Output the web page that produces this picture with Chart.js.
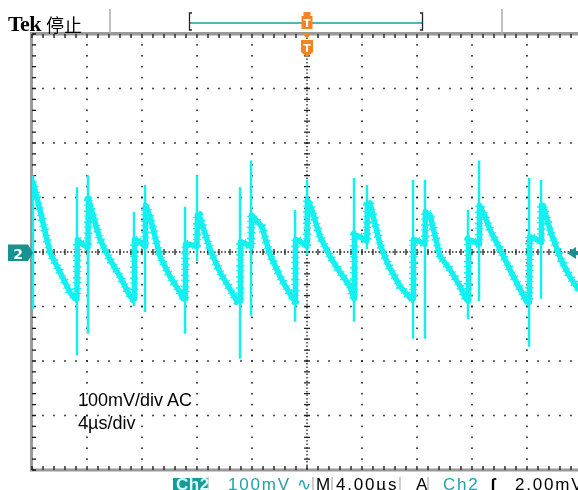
<!DOCTYPE html>
<html>
<head>
<meta charset="utf-8">
<script src="https://cdn.jsdelivr.net/npm/chart.js@4.4.1/dist/chart.umd.min.js"></script>
<style>
    body { margin: 0; background: #fff; }
    #wrap { position: relative; width: 578px; height: 490px; overflow: hidden; background: #fff; }
    #scope { position: absolute; left: 0; top: 0; }
    .lbl { position: absolute; white-space: nowrap; line-height: 1; }
    #tek { left: 8px; top: 11px; font: bold 22px "Liberation Serif", serif; letter-spacing: -0.6px; }
    #stop { left: 46px; top: 11px; font: 18px "Noto Sans CJK SC", sans-serif; }
    .trig { font: bold 11px "DejaVu Sans", sans-serif; color: #fff; width: 12px; text-align: center; }
    #gnd { left: 8px; top: 246px; width: 20px; text-align: center; font: bold 14px "DejaVu Sans", sans-serif; color: #fff; }
    .note { left: 78px; font: 18px "Liberation Sans", Arial, sans-serif; line-height: 18px; }
    .foot { top: 476px; font: 17px "Liberation Sans", Arial, sans-serif; line-height: 17px; letter-spacing: 1.8px; }
    .teal { color: #1fa3a8; }
</style>
</head>
<body>
<div id="wrap">
    <canvas id="scope" width="578" height="490"></canvas>
    <div class="lbl" id="tek">Tek</div>
    <div class="lbl" id="stop">停止</div>
    <div class="lbl trig" style="left:301px; top:17px;">T</div>
    <div class="lbl trig" style="left:301px; top:42px;">T</div>
    <div class="lbl" id="gnd">2</div>
    <div class="lbl note" style="top:391px;">100mV/div AC</div>
    <div class="lbl note" style="top:414px;">4µs/div</div>
    <div class="lbl foot" style="left:176px; color:#d8ffff; font-weight:bold; letter-spacing:0.5px;">Ch2</div>
    <div class="lbl foot teal" style="left:228px;">100mV ∿</div>
    <div class="lbl foot" style="left:316px;">M</div>
    <div class="lbl foot" style="left:336px;">4.00µs</div>
    <div class="lbl foot" style="left:416px;">A</div>
    <div class="lbl foot teal" style="left:443px;">Ch2</div>
    <div class="lbl foot" style="left:490px; font-weight:bold;">ʃ</div>
    <div class="lbl foot" style="left:515px;">2.00mV</div>
</div>
<script>
// Messwerte: Zeit in µs (4 µs/div), Spannung in mV (100 mV/div)
const traceTime = [
    -19.93, -19.42, -18.69, -17.96, -17.24, -16.87,
    -16.73, -16.70, -16.51, -16.22, -15.93, -15.90, -15.78, -15.05, -14.33, -13.60, -12.87, -12.65,
    -12.58, -12.55, -12.15, -11.78, -11.75, -11.42, -10.69, -9.96, -9.24, -9.02,
    -8.87, -8.84, -8.51, -8.00, -7.97, -7.85, -7.05, -6.33, -5.60, -5.09,
    -4.87, -4.84, -4.51, -4.07, -4.04, -3.27, -2.69, -1.96, -1.45, -1.02,
    -0.87, -0.84, -0.51, 0.00, 0.03, 0.36, 0.95, 1.67, 2.40, 3.13, 3.35,
    3.42, 3.45, 3.85, 4.36, 4.39, 4.58, 5.31, 5.89, 6.76, 7.56,
    7.71, 7.74, 8.15, 8.58, 8.61, 8.95, 9.67, 10.40, 11.13, 11.56,
    11.71, 11.74, 12.07, 12.51, 12.54, 12.95, 13.31, 14.04, 14.76, 15.49, 16.00,
    16.15, 16.18, 16.58, 17.02, 17.05, 17.16, 17.75, 18.47, 19.13, 19.71
];
const traceVolt = [
    128, 77, -1, -37, -74, -86,
    -86, 23, 18, 12, 8, 96, 86, 23, -14, -45, -81, -86,
    -86, 23, 18, 10, 86, 65, -8, -45, -74, -86,
    -86, 14, 14, 10, 68, 68, 5, -37, -68, -90,
    -90, 19, 16, 10, 68, 46, -5, -45, -68, -86,
    -90, 23, 20, 10, 96, 77, 28, -8, -37, -63, -81,
    -86, 32, 28, 20, 86, 90, 14, -23, -63, -86,
    -86, 23, 20, 14, 74, 68, -8, -32, -63, -86,
    -90, 23, 20, 14, 86, 65, 41, 5, -32, -68, -92,
    -92, 28, 25, 18, 86, 86, 35, -14, -46, -68
];
// Schaltspitzen: Zeitpunkt, oberes und unteres Ende
const spikeTime = [-19.93, -16.73, -15.93, -12.58, -11.78, -8.87, -8.00, -4.87, -4.07, -0.87, 0.00, 3.42, 4.36, 7.71, 8.58, 11.71, 12.51, 16.15, 17.02];
const spikeTop = [141, 119, 141, 74, 123, 83, 141, 119, 168, 77, 132, 136, 123, 132, 132, 77, 168, 136, 132];
const spikeBottom = [-105, -190, -150, -99, -110, -150, -17, -196, -117, -128, -5, -128, 5, -159, -159, -123, -90, -174, -86];

const xMin = -20, xMax = 19.71;   // 10 div, rechter Rand abgeschnitten
const yMin = -400, yMax = 400;
const divX = 4, divY = 100;

const traceColor = "#14f0f0";
const tealDark = "#17928f";
const orange = "#f5841f";

function tracePoints() {
    return traceTime.map((t, i) => ({ x: t, y: traceVolt[i] }));
}

function spikePoints() {
    const pts = [];
    spikeTime.forEach((t, i) => {
        pts.push({ x: t, y: spikeTop[i] });
        pts.push({ x: t, y: spikeBottom[i] });
        pts.push({ x: t, y: null });
    });
    return pts;
}

/*
Raster im Tek-Stil: Punkte je 1/5 div, Mittelachsen mit Strichen.
 */
const graticule = {
    id: "graticule",
    beforeDatasetsDraw(chart) {
        const { ctx, chartArea: a, scales: { x, y } } = chart;
        ctx.save();
        ctx.fillStyle = "#222";
        // senkrechte Linien
        for (let d = xMin + divX; d <= xMax + divX; d += divX) {
            if (Math.abs(d) < 1e-6) continue;
            const px = x.getPixelForValue(d);
            for (let v = yMin; v <= yMax; v += divY / 5) {
                ctx.fillRect(px - 0.8, y.getPixelForValue(v) - 0.8, 1.6, 1.6);
            }
        }
        // waagerechte Linien
        for (let v = yMin + divY; v < yMax; v += divY) {
            if (v === 0) continue;
            const py = y.getPixelForValue(v);
            for (let t = xMin; t <= xMax + 0.01; t += divX / 5) {
                ctx.fillRect(x.getPixelForValue(t) - 0.8, py - 0.8, 1.6, 1.6);
            }
        }
        // Mittelachsen
        const cx = x.getPixelForValue(0), cy = y.getPixelForValue(0);
        ctx.strokeStyle = "#222";
        ctx.lineWidth = 1.3;
        ctx.setLineDash([1.5, 2]);
        ctx.beginPath();
        ctx.moveTo(a.left, cy); ctx.lineTo(a.right, cy);
        ctx.moveTo(cx, a.top); ctx.lineTo(cx, a.bottom);
        ctx.stroke();
        ctx.setLineDash([]);
        ctx.beginPath();
        for (let t = xMin; t <= xMax + 0.01; t += divX / 5) {
            const px = x.getPixelForValue(t);
            ctx.moveTo(px, cy - 3); ctx.lineTo(px, cy + 3);
        }
        for (let v = yMin; v <= yMax; v += divY / 5) {
            const py = y.getPixelForValue(v);
            ctx.moveTo(cx - 3, py); ctx.lineTo(cx + 3, py);
        }
        ctx.stroke();
        // Rahmen
        ctx.fillStyle = "#9a9a9a";
        ctx.fillRect(a.left - 2, a.top - 2, a.right - a.left + 2, 3.5);
        ctx.fillRect(a.left - 2, a.bottom - 1.5, a.right - a.left + 2, 3);
        ctx.fillRect(a.left - 2, a.top - 2, 3, a.bottom - a.top + 3);
        ctx.strokeStyle = "#111";
        ctx.lineWidth = 1.3;
        ctx.beginPath();
        for (let t = xMin; t <= xMax + 0.01; t += divX / 5) {
            const px = x.getPixelForValue(t);
            ctx.moveTo(px, a.top); ctx.lineTo(px, a.top + 4);
            ctx.moveTo(px, a.bottom); ctx.lineTo(px, a.bottom - 4);
        }
        for (let v = yMin; v <= yMax; v += divY / 5) {
            const py = y.getPixelForValue(v);
            ctx.moveTo(a.left, py); ctx.lineTo(a.left + 4, py);
        }
        ctx.stroke();
        ctx.restore();
    }
};

/*
Kopfzeile, Trigger- und Massemarker.
 */
const markers = {
    id: "markers",
    afterDraw(chart) {
        const { ctx, chartArea: a, scales: { x, y } } = chart;
        const cx = x.getPixelForValue(0), cy = y.getPixelForValue(0);
        ctx.save();
        // Trennlinien Kopfzeile
        ctx.strokeStyle = "#aaa";
        ctx.lineWidth = 1.5;
        ctx.beginPath();
        ctx.moveTo(110, 9); ctx.lineTo(110, a.top);
        ctx.moveTo(502, 9); ctx.lineTo(502, a.top);
        ctx.stroke();
        // Speicherbalken mit Klammern
        ctx.strokeStyle = "#4db6b6";
        ctx.lineWidth = 2;
        ctx.beginPath();
        ctx.moveTo(190, 23); ctx.lineTo(422, 23);
        ctx.stroke();
        ctx.strokeStyle = "#222";
        ctx.lineWidth = 1.3;
        ctx.beginPath();
        ctx.moveTo(192, 13); ctx.lineTo(189.5, 13); ctx.lineTo(189.5, 30); ctx.lineTo(192, 30);
        ctx.moveTo(420, 13); ctx.lineTo(422.5, 13); ctx.lineTo(422.5, 30); ctx.lineTo(420, 30);
        ctx.stroke();
        // Triggermarker oben
        ctx.fillStyle = orange;
        ctx.fillRect(cx - 3.5, 12, 7, 5);
        ctx.fillRect(cx - 5.5, 16, 11, 13);
        ctx.beginPath();
        ctx.moveTo(cx - 4.5, a.top - 1); ctx.lineTo(cx + 4.5, a.top - 1); ctx.lineTo(cx, a.top + 5);
        ctx.closePath();
        ctx.fill();
        ctx.beginPath();
        ctx.moveTo(cx - 6, 40); ctx.lineTo(cx + 6, 40); ctx.lineTo(cx + 6, 52);
        ctx.lineTo(cx, 57); ctx.lineTo(cx - 6, 52);
        ctx.closePath();
        ctx.fill();
        // Massemarker Kanal 2
        ctx.fillStyle = tealDark;
        ctx.beginPath();
        ctx.moveTo(8, cy - 7.5); ctx.lineTo(28, cy - 7.5); ctx.lineTo(33, cy + 1);
        ctx.lineTo(28, cy + 9); ctx.lineTo(8, cy + 9);
        ctx.closePath();
        ctx.fill();
        // Triggerpegel rechts
        ctx.beginPath();
        ctx.moveTo(567, cy + 1); ctx.lineTo(576, cy - 5); ctx.lineTo(576, cy + 7);
        ctx.closePath();
        ctx.fill();
        ctx.fillRect(575, cy - 1, 3, 4);
        // Fusszeile
        ctx.fillStyle = "#179a9a";
        ctx.fillRect(173, 478, 35, 12);
        ctx.strokeStyle = "#aaa";
        ctx.lineWidth = 1.2;
        ctx.beginPath();
        [208, 313, 332, 400, 428].forEach(px => {
            ctx.moveTo(px, 477); ctx.lineTo(px, 490);
        });
        ctx.stroke();
        ctx.restore();
    }
};

function plotScope() {
    const ctx = document.getElementById("scope");
    new Chart(ctx, {
        type: "line",
        data: {
            datasets: [{
                // Rauschsaum um die Kurve
                data: tracePoints(),
                borderColor: traceColor,
                borderWidth: 8.5,
                borderDash: [1, 3.5, 1.5, 5],
                borderJoinStyle: "round",
                pointRadius: 0,
                tension: 0,
            }, {
                data: tracePoints(),
                borderColor: traceColor,
                borderWidth: 5.5,
                borderJoinStyle: "round",
                borderCapStyle: "round",
                pointRadius: 0,
                tension: 0,
            }, {
                data: spikePoints(),
                borderColor: traceColor,
                borderWidth: 2.5,
                pointRadius: 0,
                spanGaps: false,
                tension: 0,
            }],
        },
        options: {
            responsive: false,
            animation: false,
            layout: { padding: { left: 32, right: 0, top: 34, bottom: 20 } },
            plugins: { legend: { display: false }, tooltip: { enabled: false } },
            scales: {
                x: { type: "linear", min: xMin, max: xMax, display: false },
                y: { min: yMin, max: yMax, display: false },
            },
        },
        plugins: [graticule, markers],
    });
}

plotScope();
</script>
</body>
</html>
